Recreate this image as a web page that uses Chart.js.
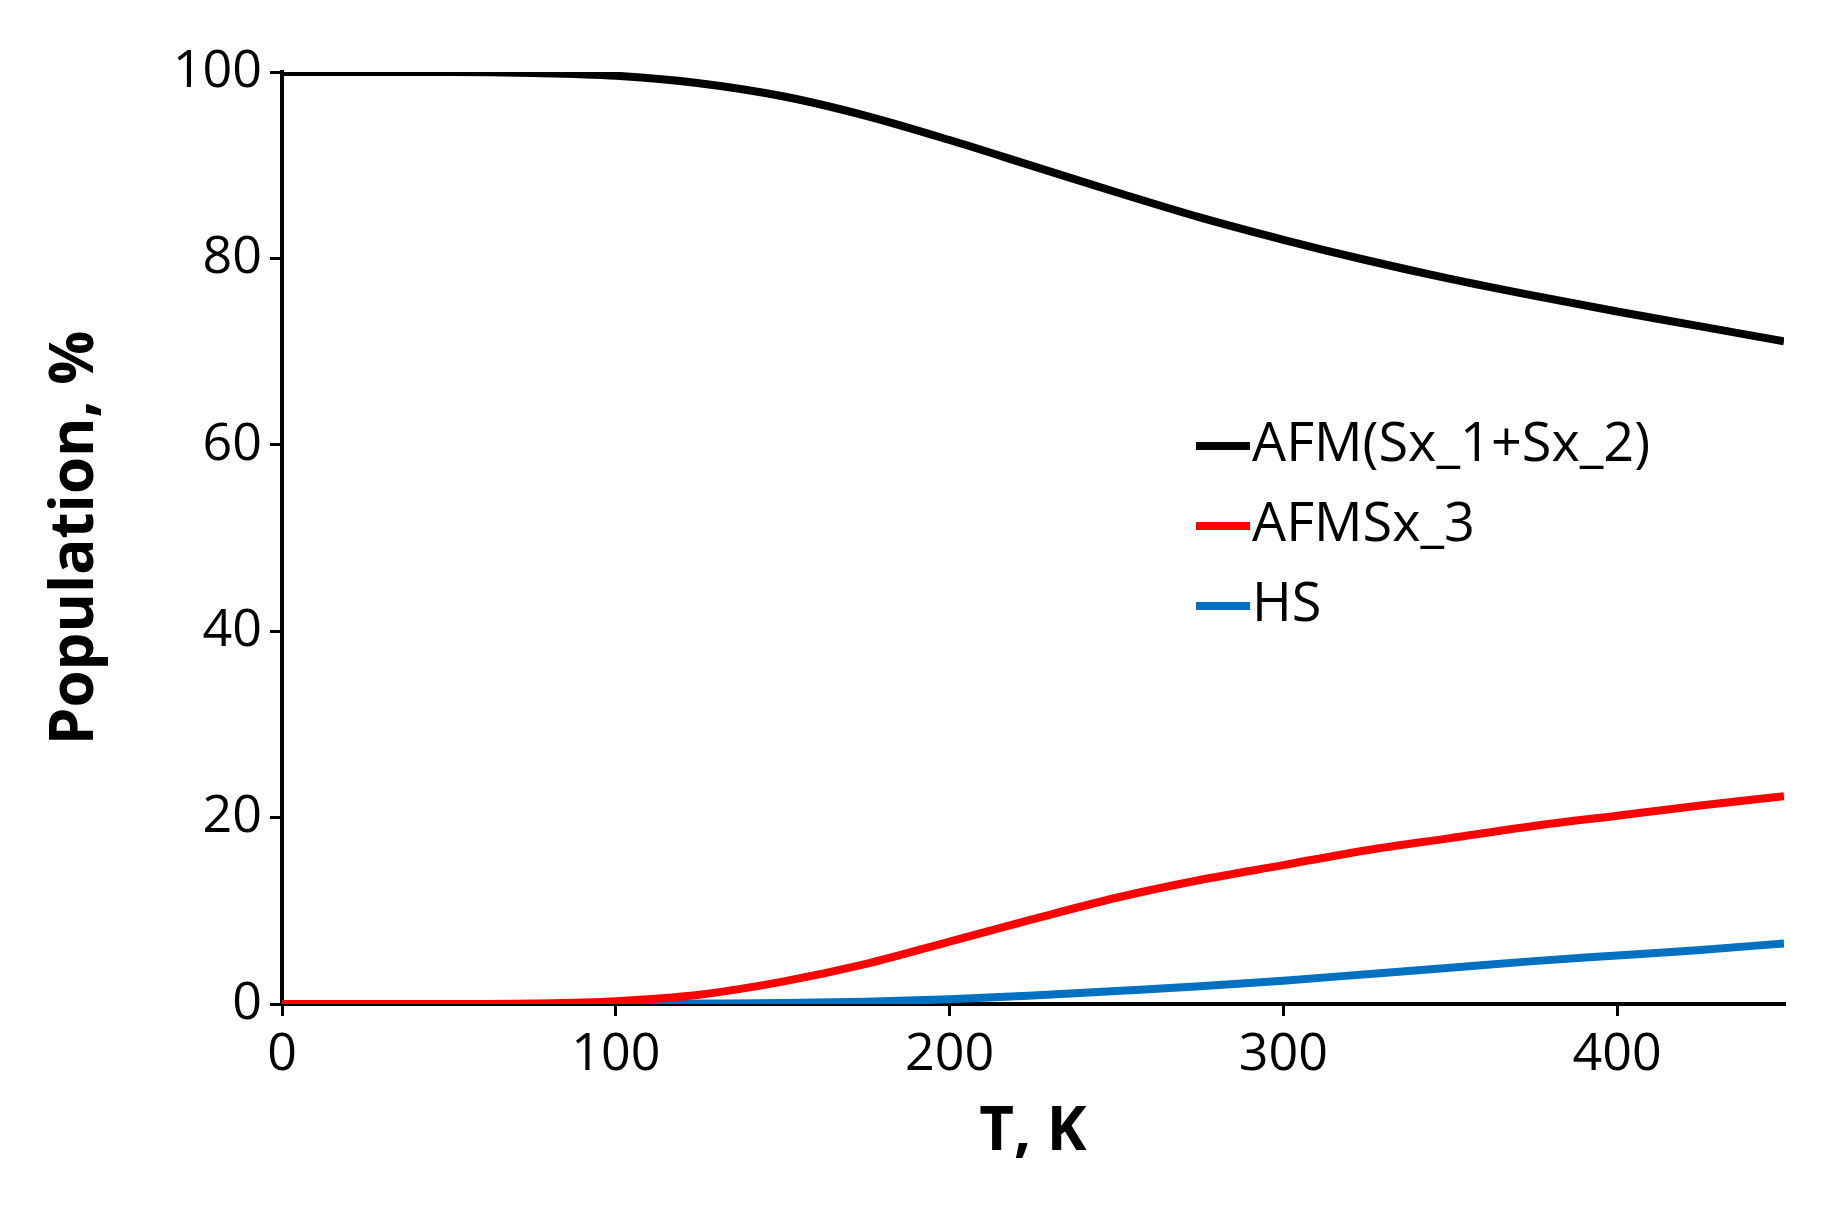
<!DOCTYPE html>
<html><head><meta charset="utf-8">
<script src="https://cdn.jsdelivr.net/npm/chart.js@4/dist/chart.umd.min.js"></script>
<style>html,body{margin:0;background:#fff}#w{width:1840px;height:1209px}</style>
</head><body><div id="w"><canvas id="c"></canvas></div>
<script>
const temps = [0,25,50,75,100,125,150,175,200,225,250,275,300,325,350,375,400,425,450];
const afm12 = [100,100,100,99.9,99.6,98.8,97.4,95.3,92.7,89.9,87.1,84.4,82.0,79.8,77.8,76.0,74.3,72.7,71.1];
const afm3  = [0,0,0,0.05,0.3,1.0,2.4,4.3,6.7,9.1,11.4,13.3,14.9,16.5,17.8,19.1,20.2,21.3,22.3];
const hs    = [0,0,0,0,0,0.05,0.1,0.25,0.5,0.9,1.4,1.9,2.5,3.2,3.9,4.6,5.2,5.8,6.5];
const seriesNames = ['AFM(Sx_1+Sx_2)','AFMSx_3','HS'];
const colors = ['#000000','#ff0000','#0070c0'];
const xTicks = [0,100,200,300,400];
const yTicks = [0,20,40,60,80,100];
const FONT = "'Open Sans',sans-serif";
const mk = (d)=>temps.map((t,i)=>({x:t,y:d[i]}));
const legendPlugin = {id:'lg', afterDraw(ch){
  const c=ch.ctx; c.save();
  c.font = "54px "+FONT; c.textBaseline='middle';
  ch.data.datasets.forEach((ds,i)=>{
    const y=446+i*80;
    c.strokeStyle=ds.borderColor; c.lineWidth=8; c.beginPath(); c.moveTo(1196,y); c.lineTo(1250,y); c.stroke();
    c.fillStyle='#000'; c.fillText(ds.label,1252,y);
  });
  c.restore();
}};
new Chart(document.getElementById('c'),{
  type:'line',
  data:{datasets:[
    {label:seriesNames[0],data:mk(afm12),borderColor:colors[0],borderWidth:8,pointRadius:0,cubicInterpolationMode:'monotone'},
    {label:seriesNames[1],data:mk(afm3),borderColor:colors[1],borderWidth:8,pointRadius:0,cubicInterpolationMode:'monotone'},
    {label:seriesNames[2],data:mk(hs),borderColor:colors[2],borderWidth:8,pointRadius:0,cubicInterpolationMode:'monotone'}
  ]},
  options:{responsive:true,maintainAspectRatio:false,animation:false,
    layout:{padding:{top:72,right:56,left:0,bottom:0}},
    plugins:{legend:{display:false},tooltip:{enabled:false}},
    scales:{
      x:{type:'linear',min:0,max:450,
        afterBuildTicks:a=>{a.ticks=xTicks.map(v=>({value:v}));},
        afterFit:a=>{a.height=205;},
        border:{color:'#000',width:4},
        grid:{drawOnChartArea:false,color:'#000',lineWidth:3,tickLength:12},
        ticks:{color:'#000',font:{size:52,family:FONT},padding:8,maxRotation:0},
        title:{display:true,text:'T, K',color:'#000',font:{size:60,weight:'bold',family:FONT},padding:{top:-30,bottom:40}}
      },
      y:{min:0,max:100,
        afterBuildTicks:a=>{a.ticks=yTicks.map(v=>({value:v}));},
        afterFit:a=>{a.width=282;},
        border:{color:'#000',width:4},
        grid:{drawOnChartArea:false,color:'#000',lineWidth:3,tickLength:12},
        ticks:{color:'#000',font:{size:52,family:FONT},padding:8},
        title:{display:true,text:'Population, %',color:'#000',font:{size:60,weight:'bold',family:FONT},padding:{top:40,bottom:10}}
      }
    }
  },
  plugins:[legendPlugin]
});
</script></body></html>
